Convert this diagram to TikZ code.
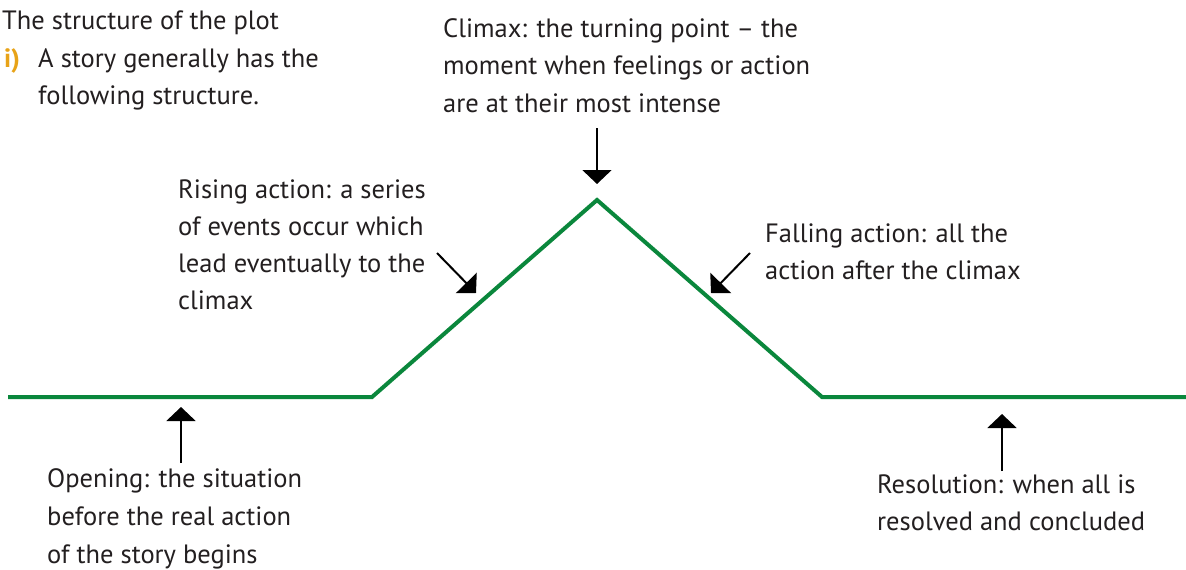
\documentclass[tikz,border=0pt]{standalone}
\usepackage{fontspec}
\setmainfont{PT Sans}
\usetikzlibrary{arrows.meta}
\definecolor{plotgreen}{RGB}{10,135,60}
\definecolor{txt}{RGB}{35,31,32}
\definecolor{orangei}{RGB}{232,163,23}
\begin{document}
\begin{tikzpicture}[x=1pt,y=-1pt,
  lbl/.style={anchor=base west,inner sep=0pt,align=left,text=txt,
    font=\fontsize{26.5}{37}\selectfont},
  pointer/.style={line width=2pt,-{Triangle[length=14pt,width=29pt]}},
  plotline/.style={plotgreen,line width=4pt,line join=miter}]
\useasboundingbox[fill=white] (0,0) rectangle (1186,570);
% plot line
\coordinate (s) at (8,397);
\coordinate (r1) at (372,397);
\coordinate (apex) at (597,200);
\coordinate (f1) at (822,397);
\coordinate (e) at (1186,397);
\draw[plotline] (s) -- (r1) -- (apex) -- (f1) -- (e);
% title (base anchor = baseline of the last line)
\node[lbl] (title) at (2,29) {The structure of the plot};
\node[lbl,text=orangei,font=\fontsize{26.5}{37}\bfseries] (num) at (4,67) {i)};
\node[lbl] (intro) at (38,104) {A story generally has the\\following structure.};
% labels
\node[lbl,font=\fontsize{26.5}{37.5}\selectfont] (climax) at (443,112) {Climax: the turning point -- the\\moment when feelings or action\\are at their most intense};
\node[lbl] (rising) at (178,309) {Rising action: a series\\of events occur which\\lead eventually to the\\climax};
\node[lbl] (falling) at (765,279) {Falling action: all the\\action after the climax};
\node[lbl,font=\fontsize{26.5}{38}\selectfont] (opening) at (47,563) {Opening: the situation\\before the real action\\of the story begins};
\node[lbl] (resol) at (877,530) {Resolution: when all is\\resolved and concluded};
% pointer coordinates
\coordinate (cA) at (597,128);
\coordinate (cB) at (597,184);
\coordinate (rA) at (437,253);
\coordinate (rB) at (476,293);
\coordinate (fA) at (750,253);
\coordinate (fB) at (711,293);
\coordinate (oA) at (181,463);
\coordinate (oB) at (181,407);
\coordinate (zA) at (1002,471);
\coordinate (zB) at (1002,414);
\draw[pointer] (cA) -- (cB);
\draw[pointer] (rA) -- (rB);
\draw[pointer] (fA) -- (fB);
\draw[pointer] (oA) -- (oB);
\draw[pointer] (zA) -- (zB);
\end{tikzpicture}
\end{document}
